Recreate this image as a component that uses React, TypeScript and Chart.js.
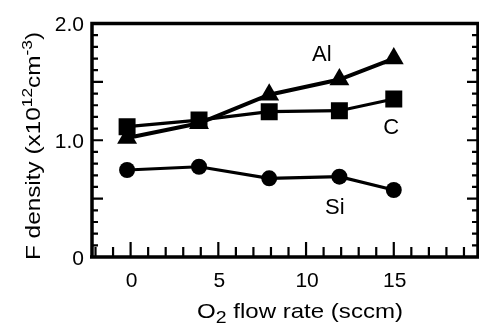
import React, { useEffect, useRef } from "react";
import { Chart, registerables } from "chart.js";
Chart.register(...registerables);

// ---- data ----
const flowRates = [-0.2, 3.9, 7.9, 11.9, 15];
const alDensity = [1.02, 1.145, 1.39, 1.52, 1.7];
const cDensity = [1.116, 1.173, 1.245, 1.253, 1.353];
const siDensity = [0.745, 0.773, 0.674, 0.688, 0.574];

const xTickValues = [0, 5, 10, 15];
const xTickLabels = ["0", "5", "10", "15"];
const yTickValues = [0, 1, 2];
const yTickLabels = ["0", "1.0", "2.0"];

const seriesNames = ["Al", "C", "Si"];
const seriesLabelX = [10.9, 14.85, 11.64];
const seriesLabelY = [1.73, 1.105, 0.42];

const FONT = "'Liberation Sans', Arial, Helvetica, sans-serif";

type Seg = { t: string; s?: number; dy?: number };

function drawSegs(ctx: CanvasRenderingContext2D, segs: Seg[], size: number, cx: number, baseY: number, targetW: number) {
  let w = 0;
  const widths = segs.map((sg) => {
    ctx.font = `${sg.s ?? size}px ${FONT}`;
    const m = ctx.measureText(sg.t).width;
    w += m;
    return m;
  });
  const k = targetW / w;
  ctx.save();
  ctx.translate(cx - targetW / 2, baseY);
  ctx.scale(k, 1);
  let x = 0;
  segs.forEach((sg, i) => {
    ctx.font = `${sg.s ?? size}px ${FONT}`;
    ctx.textAlign = "left";
    ctx.textBaseline = "alphabetic";
    ctx.fillText(sg.t, x, sg.dy ?? 0);
    x += widths[i];
  });
  ctx.restore();
}

const axesPlugin = {
  id: "sciAxes",
  afterDatasetsDraw(chart: any) {
    const ctx: CanvasRenderingContext2D = chart.ctx;
    const xs = chart.scales.x;
    const ys = chart.scales.y;
    const { left, right, top, bottom } = chart.chartArea;
    ctx.save();
    ctx.strokeStyle = "#000";
    ctx.fillStyle = "#000";
    ctx.lineCap = "butt";
    // frame
    ctx.lineWidth = 3.5;
    ctx.beginPath();
    ctx.moveTo(left, bottom);
    ctx.lineTo(left, top);
    ctx.lineTo(right, top);
    ctx.lineTo(right, bottom);
    ctx.lineTo(left - 2, bottom);
    ctx.stroke();
    // y ticks (left and right, inward)
    ctx.lineWidth = 2.2;
    for (let i = 0; i <= 20; i++) {
      const v = i / 10;
      const py = ys.getPixelForValue(v);
      const major = i % 5 === 0;
      const len = major ? 11 : 6;
      ctx.beginPath();
      ctx.moveTo(left, py);
      ctx.lineTo(left + len, py);
      ctx.moveTo(right, py);
      ctx.lineTo(right - len, py);
      ctx.stroke();
    }
    // x ticks (bottom, inward)
    for (let v = -2; v <= 19; v++) {
      const px = xs.getPixelForValue(v);
      const major = v % 5 === 0;
      const len = major ? 15 : 10;
      ctx.beginPath();
      ctx.moveTo(px, bottom);
      ctx.lineTo(px, bottom - len);
      ctx.stroke();
    }
    // tick labels
    ctx.font = `21px ${FONT}`;
    ctx.textAlign = "center";
    ctx.textBaseline = "alphabetic";
    xTickValues.forEach((v, i) => {
      ctx.fillText(xTickLabels[i], xs.getPixelForValue(v) + 1, 287);
    });
    ctx.textAlign = "right";
    yTickValues.forEach((v, i) => {
      ctx.fillText(yTickLabels[i], 84, ys.getPixelForValue(v) + 7.5);
    });
    // series labels
    ctx.textAlign = "center";
    ctx.textBaseline = "middle";
    ctx.font = `22px ${FONT}`;
    seriesNames.forEach((n, i) => {
      ctx.fillText(n, xs.getPixelForValue(seriesLabelX[i]), ys.getPixelForValue(seriesLabelY[i]));
    });
    // x title
    drawSegs(
      ctx,
      [{ t: "O" }, { t: "2", s: 17, dy: 5 }, { t: " flow rate (sccm)" }],
      21,
      300,
      318,
      206
    );
    // y title (rotated)
    ctx.save();
    ctx.translate(40, 146);
    ctx.rotate(-Math.PI / 2);
    drawSegs(
      ctx,
      [
        { t: "F density (x10" },
        { t: "12", s: 15, dy: -8 },
        { t: "cm" },
        { t: "-3", s: 15, dy: -8 },
        { t: ")" },
      ],
      21,
      0,
      0,
      228
    );
    ctx.restore();
    ctx.restore();
  },
};

export default function App() {
  const ref = useRef<HTMLCanvasElement | null>(null);
  useEffect(() => {
    document.body.style.margin = "0";
    const pts = (ys: number[]) => flowRates.map((x, i) => ({ x, y: ys[i] }));
    const chart = new Chart(ref.current as HTMLCanvasElement, {
      type: "line",
      data: {
        datasets: [
          {
            label: "Al",
            data: pts(alDensity),
            borderColor: "#000",
            backgroundColor: "#000",
            borderWidth: 4,
            pointStyle: "triangle",
            pointRadius: 11.5,
            pointBorderWidth: 0,
          },
          {
            label: "C",
            data: pts(cDensity),
            borderColor: "#000",
            backgroundColor: "#000",
            borderWidth: 3.2,
            pointStyle: "rect",
            pointRadius: 12,
            pointBorderWidth: 0,
          },
          {
            label: "Si",
            data: pts(siDensity),
            borderColor: "#000",
            backgroundColor: "#000",
            borderWidth: 3.2,
            pointStyle: "circle",
            pointRadius: 8,
            pointBorderWidth: 0,
          },
        ],
      },
      options: {
        animation: false,
        responsive: false,
        devicePixelRatio: 1,
        layout: { padding: { left: 92, right: 7, top: 23.5, bottom: 68 } },
        plugins: { legend: { display: false }, tooltip: { enabled: false } },
        elements: { line: { tension: 0 } },
        scales: {
          x: { type: "linear", min: -2.2, max: 19.8, display: false },
          y: { type: "linear", min: 0, max: 2, display: false },
        },
      },
      plugins: [axesPlugin],
    });
    return () => chart.destroy();
  }, []);
  return (
    <div style={{ position: "absolute", left: 0, top: 0, width: 479, height: 325, overflow: "hidden", background: "#fff" }}>
      <canvas ref={ref} width={490} height={325} style={{ display: "block" }} />
    </div>
  );
}
